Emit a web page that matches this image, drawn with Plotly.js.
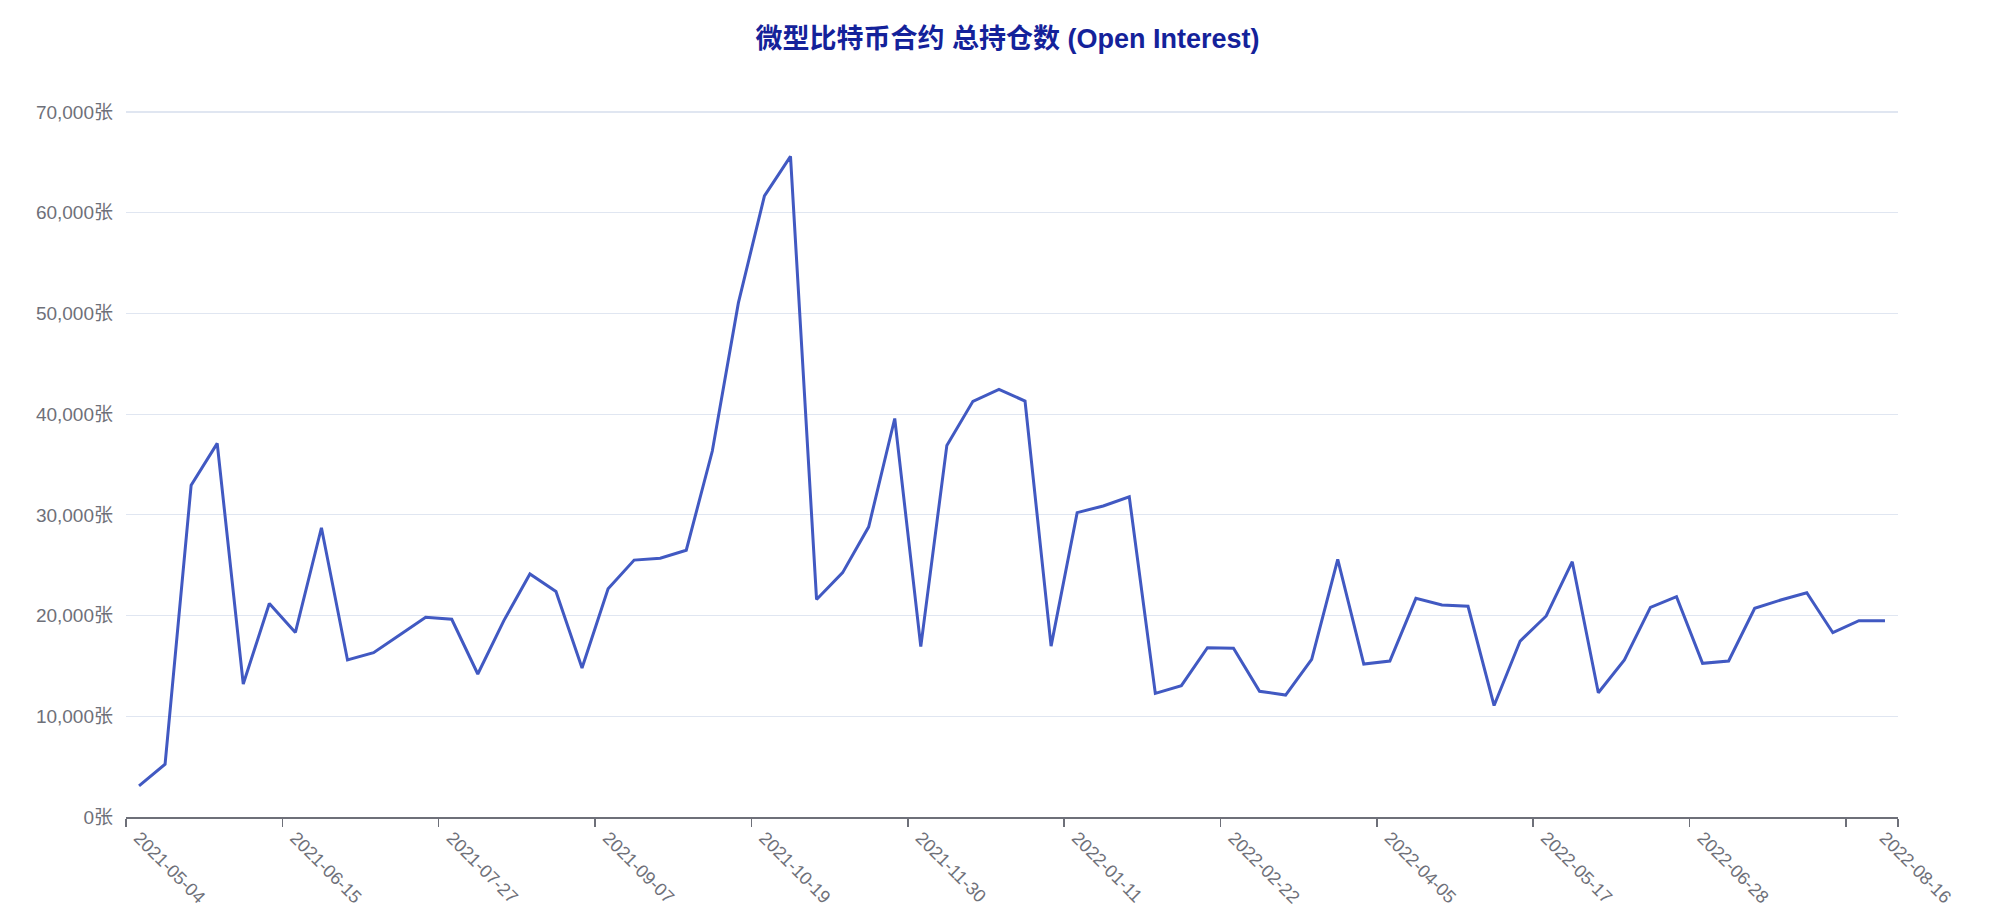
<!DOCTYPE html>
<html>
<head>
<meta charset="utf-8">
<script src="https://cdn.plot.ly/plotly-3.0.1.min.js"></script>
<style>
  html, body { margin: 0; padding: 0; background: #ffffff; }
  #chart { width: 1995px; height: 917px; }
</style>
</head>
<body>
<div id="chart"></div>
<script>
// Weekly categories (dates)
const dates = [
  "2021-05-04","2021-05-11","2021-05-18","2021-05-25","2021-06-01","2021-06-08",
  "2021-06-15","2021-06-22","2021-06-29","2021-07-06","2021-07-13","2021-07-20",
  "2021-07-27","2021-08-03","2021-08-10","2021-08-17","2021-08-24","2021-08-31",
  "2021-09-07","2021-09-14","2021-09-21","2021-09-28","2021-10-05","2021-10-12",
  "2021-10-19","2021-10-26","2021-11-02","2021-11-09","2021-11-16","2021-11-23",
  "2021-11-30","2021-12-07","2021-12-14","2021-12-21","2021-12-28","2022-01-04",
  "2022-01-11","2022-01-18","2022-01-25","2022-02-01","2022-02-08","2022-02-15",
  "2022-02-22","2022-03-01","2022-03-08","2022-03-15","2022-03-22","2022-03-29",
  "2022-04-05","2022-04-12","2022-04-19","2022-04-26","2022-05-03","2022-05-10",
  "2022-05-17","2022-05-24","2022-05-31","2022-06-07","2022-06-14","2022-06-21",
  "2022-06-28","2022-07-05","2022-07-12","2022-07-19","2022-07-26","2022-08-02",
  "2022-08-09","2022-08-16"
];

// Total open interest (contracts)
const openInterest = [
  3100, 5250, 32950, 37100, 13200, 21200,
  18330, 28720, 15590, 16320, 18070, 19830,
  19630, 14200, 19500, 24130, 22400, 14790,
  22660, 25510, 25700, 26490, 36340, 51050,
  61680, 65600, 21600, 24260, 28810, 39570,
  16920, 36900, 41270, 42460, 41300, 16970,
  30220, 30880, 31800, 12280, 13040, 16810,
  16750, 12480, 12110, 15660, 25590, 15190,
  15490, 21710, 21050, 20920, 11070, 17470,
  19960, 25350, 12340, 15590, 20820, 21880,
  15260, 15490, 20720, 21550, 22270, 18300,
  19490, 19490
];

// Labelled categories on the x axis
const xLabelDates = [
  "2021-05-04","2021-06-15","2021-07-27","2021-09-07","2021-10-19","2021-11-30",
  "2022-01-11","2022-02-22","2022-04-05","2022-05-17","2022-06-28","2022-08-16"
];

// Y axis ticks
const yTicks = [0, 10000, 20000, 30000, 40000, 50000, 60000, 70000];
const yTickText = yTicks.map(v => v.toLocaleString('en-US') + '张');

const titleText = '微型比特币合约 总持仓数 (Open Interest)';

const FONT = 'Liberation Sans, Arial, Noto Sans CJK SC, sans-serif';
const AXIS_COLOR = '#6e7079';

const n = dates.length;
// tick marks sit on category boundaries every 6 weeks, plus the axis end
const boundaryTicks = [];
for (let i = 0; i < n; i += 6) boundaryTicks.push(i - 0.5);
boundaryTicks.push(n - 0.5);

const traces = [
  {
    type: 'scatter',
    mode: 'lines',
    x: dates,
    y: openInterest,
    xaxis: 'x',
    yaxis: 'y',
    line: { color: '#4159c2', width: 3 },
    hoverinfo: 'x+y',
    showlegend: false
  },
  {
    // empty trace so the boundary-tick axis is drawn
    type: 'scatter',
    mode: 'lines',
    x: [],
    y: [],
    xaxis: 'x2',
    yaxis: 'y',
    hoverinfo: 'skip',
    showlegend: false
  }
];

const layout = {
  width: 1995,
  height: 917,
  paper_bgcolor: '#ffffff',
  plot_bgcolor: '#ffffff',
  margin: { l: 126, r: 97, t: 109, b: 100, pad: 0 },
  showlegend: false,
  title: {
    text: '<b>' + titleText + '</b>',
    font: { family: FONT, size: 27, color: '#14229a' },
    xref: 'container', x: 0.505, xanchor: 'center',
    yref: 'container', y: 1 - 39 / 917, yanchor: 'middle'
  },
  xaxis: {
    type: 'category',
    range: [-0.5, n - 0.5],
    autorange: false,
    tickmode: 'array',
    tickvals: xLabelDates,
    ticktext: xLabelDates,
    tickangle: 45,
    ticks: '',
    ticklabelstandoff: 6,
    tickfont: { family: FONT, size: 18, color: AXIS_COLOR },
    showgrid: false,
    zeroline: false,
    showline: false,
    fixedrange: true
  },
  xaxis2: {
    type: 'linear',
    overlaying: 'x',
    anchor: 'y',
    side: 'bottom',
    range: [-0.5, n - 0.5],
    autorange: false,
    tickmode: 'array',
    tickvals: boundaryTicks,
    showticklabels: false,
    ticks: 'outside',
    ticklen: 8,
    tickwidth: 1.5,
    tickcolor: AXIS_COLOR,
    showline: true,
    linecolor: AXIS_COLOR,
    linewidth: 1.5,
    showgrid: false,
    zeroline: false,
    fixedrange: true
  },
  yaxis: {
    range: [0, 70300],
    autorange: false,
    tickmode: 'array',
    tickvals: yTicks,
    ticktext: yTickText,
    ticks: '',
    ticklabelstandoff: 12,
    tickfont: { family: FONT, size: 19, color: AXIS_COLOR },
    showgrid: true,
    gridcolor: '#e0e6f1',
    gridwidth: 1.2,
    zeroline: false,
    showline: false,
    fixedrange: true
  }
};

Plotly.newPlot('chart', traces, layout, { displayModeBar: false, staticPlot: true });
</script>
</body>
</html>
